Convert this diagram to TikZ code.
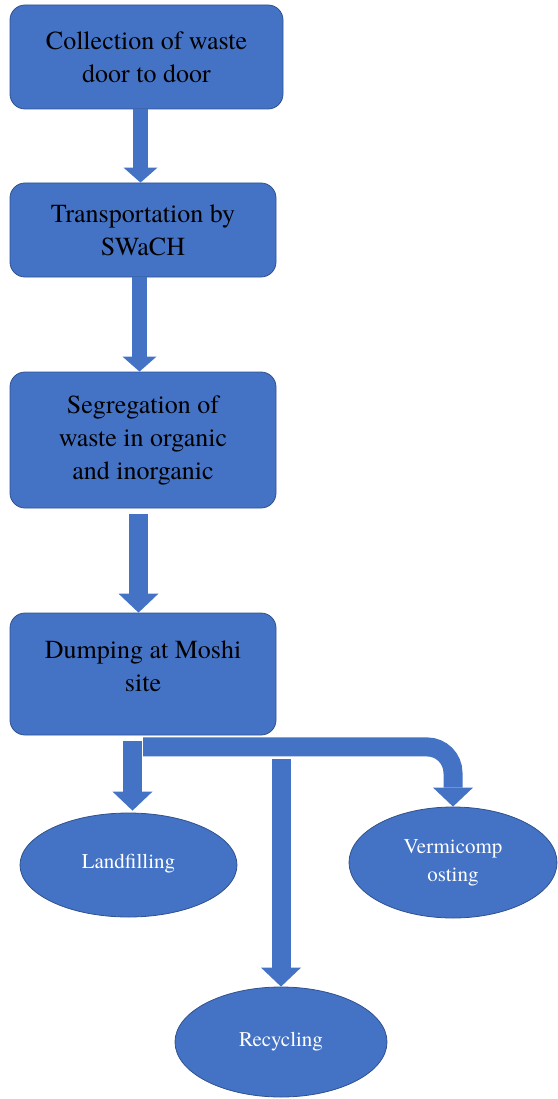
\documentclass[tikz,border=0pt]{standalone}
\usepackage{fontspec}
\setmainfont{TeX Gyre Termes}
\usetikzlibrary{positioning,shapes.geometric,arrows.meta}
\definecolor{office}{HTML}{4472C4}
\definecolor{officedark}{HTML}{2F528F}

\begin{document}
\begin{tikzpicture}[x=1pt,y=1pt,
  box/.style={rectangle,rounded corners=15pt,fill=office,draw=officedark,line width=0.8pt,align=center,font=\fontsize{26}{33}\selectfont,minimum width=266pt,inner sep=0pt},
  oval/.style={ellipse,fill=office,draw=officedark,line width=0.8pt,align=center,text=white,font=\fontsize{21}{28}\selectfont,inner sep=0pt},
  flow/.style={draw=office,line width=15pt,-{Triangle[width=34pt,length=15pt,line width=0pt]}},
  bigflow/.style={draw=office,line width=19pt,-{Triangle[width=40pt,length=19pt,line width=0pt]}}]
  \useasboundingbox (0,0) rectangle (557,-1099);

  \node[box,minimum width=273pt,minimum height=104pt] (collect) at (146.5,-57) {Collection of waste\\door to door};
  \node[box,minimum height=94pt] (transport) at (143,-230) {Transportation by\\SWaCH};
  \node[box,minimum height=136pt] (segregate) at (143,-440) {Segregation of\\waste in organic\\and inorganic};
  \node[box,minimum height=122pt] (dump) at (143,-674) {Dumping at Moshi\\site\\[-17pt]};

  \node[oval,minimum width=217pt,minimum height=104pt] (land) at (128.5,-865) {\raisebox{7pt}{Landfilling}};
  \node[oval,minimum width=208pt,minimum height=111pt] (vermi) at (453,-862.5) {Vermicomp\\osting};
  \node[oval,minimum width=212pt,minimum height=110pt] (recycle) at (281,-1042) {\raisebox{6pt}{Recycling}};

  \draw[flow] ([xshift=-6pt]collect.south) -- ([xshift=-2.5pt]transport.north);
  \draw[flow] ([xshift=-3.5pt]transport.south) -- ([xshift=-3.5pt]segregate.north);
  \draw[bigflow] ([xshift=-4.5pt,yshift=-6pt]segregate.south) -- ([xshift=-4.5pt]dump.north);
  \draw[bigflow] ([xshift=-10.5pt,yshift=-6pt]dump.south) -- ([xshift=4pt,yshift=2pt]land.north);
  \draw[bigflow,rounded corners=26pt] ([yshift=-11.5pt]dump.south) -| (vermi.north);
  \draw[bigflow] ([yshift=-24pt]recycle.north |- dump.south) -- (recycle.north);
\end{tikzpicture}
\end{document}
